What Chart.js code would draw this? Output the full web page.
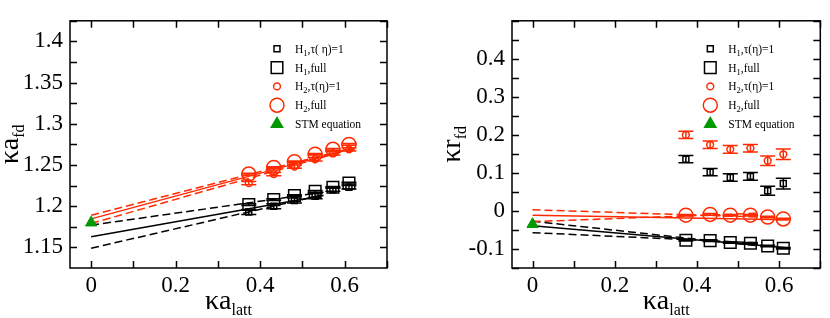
<!DOCTYPE html>
<html>
<head>
<meta charset="utf-8">
<script src="https://cdn.jsdelivr.net/npm/chart.js@4.4.1/dist/chart.umd.min.js"></script>
<style>
body { margin: 0; background: #fff; }
.wrap { display: flex; width: 830px; height: 318px; }
.box { width: 415px; height: 318px; }
</style>
</head>
<body>
<div class="wrap">
  <div class="box"><canvas id="chartA" width="415" height="318"></canvas></div>
  <div class="box"><canvas id="chartR" width="415" height="318"></canvas></div>
</div>
<script>
const RED = "#ff2a00";
const GREEN = "#009a00";
const SERIF = "'Liberation Serif', 'Times New Roman', serif";

// lattice spacings (x) of the six data points
const latt = [0.373, 0.432, 0.481, 0.530, 0.572, 0.610];

// tick labels
const xTicks = [0, 0.2, 0.4, 0.6];
const aTicks = [1.15, 1.2, 1.25, 1.3, 1.35, 1.4];
const rTicks = [-0.1, 0, 0.1, 0.2, 0.3, 0.4];

// left panel: kappa a_fd
const aH1tau = [1.193, 1.200, 1.207, 1.212, 1.220, 1.223];
const aH1tauErr = [0.003, 0.003, 0.003, 0.003, 0.002, 0.002];
const aH1full = [1.202, 1.208, 1.213, 1.218, 1.223, 1.228];
const aH1fullErr = [0.001, 0.001, 0.001, 0.001, 0.001, 0.001];
const aH2tau = [1.228, 1.239, 1.248, 1.257, 1.264, 1.269];
const aH2tauErr = [0.002, 0.002, 0.002, 0.002, 0.002, 0.002];
const aH2full = [1.239, 1.247, 1.254, 1.263, 1.269, 1.275];
const aH2fullErr = [0.001, 0.001, 0.001, 0.001, 0.001, 0.001];
const aSTM = 1.180;

// left panel fits (x = 0 and end of fit)
const aFitX1 = [0, 0.55];
const aFitH1 = [1.163, 1.213];
const aFitH1hi = [1.177, 1.217];
const aFitH1lo = [1.149, 1.214];
const aFitX2 = [0, 0.62];
const aFitH2 = [1.1846, 1.2705];
const aFitH2hi = [1.189, 1.271];
const aFitH2lo = [1.179, 1.270];

// right panel: kappa r_fd
const rH1tau = [0.136, 0.102, 0.088, 0.091, 0.053, 0.072];
const rH1tauErr = [0.0095, 0.0095, 0.01, 0.01, 0.012, 0.014];
const rH1full = [-0.077, -0.078, -0.083, -0.085, -0.092, -0.098];
const rH1fullErr = [0.002, 0.002, 0.002, 0.002, 0.002, 0.002];
const rH2tau = [0.200, 0.174, 0.162, 0.165, 0.132, 0.149];
const rH2tauErr = [0.0095, 0.01, 0.01, 0.01, 0.0125, 0.014];
const rH2full = [-0.011, -0.009, -0.011, -0.011, -0.016, -0.021];
const rH2fullErr = [0.002, 0.002, 0.002, 0.002, 0.002, 0.002];
const rSTM = -0.035;

// right panel fits
const rFitX1 = [0, 0.62];
const rFitH1 = [-0.039, -0.097];
const rFitXd = [0, 0.55];
const rFitH1hi = [-0.027, -0.092];
const rFitH1lo = [-0.057, -0.084];
const rFitH2 = [-0.011, -0.023];
const rFitH2hi = [0.003, -0.016];
const rFitH2lo = [-0.028, -0.006];

// legend texts (the left panel has a space inside the bracket)
const legendA = ["H|1|,τ( η)=1", "H|1|,full", "H|2|,τ(η)=1", "H|2|,full", "STM equation"];
const legendR = ["H|1|,τ(η)=1", "H|1|,full", "H|2|,τ(η)=1", "H|2|,full", "STM equation"];

function pts(xs, ys) {
    return xs.map((x, i) => ({ x: x, y: ys[i] }));
}

function marker(ys, errs, style, radius, color) {
    return {
        data: pts(latt, ys),
        errs: errs,
        showLine: false,
        pointStyle: style,
        pointRadius: radius,
        pointBorderWidth: 1.5,
        borderColor: color,
        pointBorderColor: color,
        backgroundColor: "rgba(0,0,0,0)",
        pointBackgroundColor: "rgba(0,0,0,0)"
    };
}

function stm(y) {
    return {
        data: [{ x: 0, y: y }],
        showLine: false,
        pointStyle: "triangle",
        pointRadius: 6.5,
        pointBorderWidth: 1,
        borderColor: GREEN,
        pointBorderColor: GREEN,
        pointBackgroundColor: GREEN
    };
}

function fit(xs, ys, color, dashed) {
    return {
        data: pts(xs, ys),
        showLine: true,
        pointRadius: 0,
        borderColor: color,
        borderWidth: 1.5,
        borderDash: dashed ? [8, 4] : [],
        fill: false
    };
}

// frame with inward ticks on all four sides
const framePlugin = {
    id: "frame",
    afterDraw(chart, args, opts) {
        const { ctx, chartArea: a, scales } = chart;
        ctx.save();
        ctx.strokeStyle = "#000";
        ctx.lineWidth = 1.5;
        ctx.beginPath();
        const T = 7;
        for (let i = 0; ; i++) {
            const v = opts.xStart + i * opts.xStep;
            if (v > scales.x.max + 1e-9) break;
            const px = Math.round(scales.x.getPixelForValue(v)) + 0.5;
            ctx.moveTo(px, a.bottom); ctx.lineTo(px, a.bottom - T);
            ctx.moveTo(px, a.top); ctx.lineTo(px, a.top + T);
        }
        for (let i = 0; ; i++) {
            const v = opts.yStart + i * opts.yStep;
            if (v > scales.y.max + 1e-9) break;
            const py = Math.round(scales.y.getPixelForValue(v)) + 0.5;
            ctx.moveTo(a.left, py); ctx.lineTo(a.left + T, py);
            ctx.moveTo(a.right, py); ctx.lineTo(a.right - T, py);
        }
        ctx.stroke();
        ctx.strokeRect(a.left, a.top, a.right - a.left, a.bottom - a.top);
        ctx.restore();
    }
};

// vertical error bars with caps
const errorPlugin = {
    id: "errbars",
    afterDatasetsDraw(chart) {
        const { ctx, scales } = chart;
        ctx.save();
        ctx.lineWidth = 1.5;
        chart.data.datasets.forEach(ds => {
            if (!ds.errs) return;
            ctx.strokeStyle = ds.borderColor;
            ctx.beginPath();
            ds.data.forEach((p, j) => {
                const e = ds.errs[j];
                const px = scales.x.getPixelForValue(p.x);
                const y0 = scales.y.getPixelForValue(p.y - e);
                const y1 = scales.y.getPixelForValue(p.y + e);
                ctx.moveTo(px, y0); ctx.lineTo(px, y1);
                ctx.moveTo(px - 7.5, y0); ctx.lineTo(px + 7.5, y0);
                ctx.moveTo(px - 7.5, y1); ctx.lineTo(px + 7.5, y1);
            });
            ctx.stroke();
        });
        ctx.restore();
    }
};

// "H|1|,full" -> [["H",0],["1",1],[",full",0]]  (odd pieces are subscripts)
function split(s) {
    return s.split("|").map((t, i) => [t, i % 2]);
}
function richWidth(ctx, parts, size, subSize) {
    let w = 0;
    parts.forEach(p => {
        ctx.font = (p[1] ? subSize : size) + "px " + SERIF;
        w += ctx.measureText(p[0]).width;
    });
    return w;
}
function drawRich(ctx, parts, x, y, size, subSize, subDrop) {
    parts.forEach(p => {
        ctx.font = (p[1] ? subSize : size) + "px " + SERIF;
        ctx.fillText(p[0], x, p[1] ? y + subDrop : y);
        x += ctx.measureText(p[0]).width;
    });
}

const legendMarks = [
    { style: "rect", r: 4.2, color: "#000", fill: "rgba(0,0,0,0)" },
    { style: "rect", r: 8.2, color: "#000", fill: "rgba(0,0,0,0)" },
    { style: "circle", r: 3.4, color: RED, fill: "rgba(0,0,0,0)" },
    { style: "circle", r: 7, color: RED, fill: "rgba(0,0,0,0)" },
    { style: "triangle", r: 6.5, color: GREEN, fill: GREEN }
];

const labelPlugin = {
    id: "labels",
    afterDraw(chart, args, opts) {
        const { ctx, chartArea: a } = chart;
        ctx.save();
        ctx.fillStyle = "#000";
        ctx.textBaseline = "alphabetic";
        // x title
        const xt = split("κa|latt");
        const xw = richWidth(ctx, xt, 28, 16);
        drawRich(ctx, xt, (a.left + a.right) / 2 - xw / 2, 309, 28, 16, 6);
        // y title (rotated)
        const yt = split(opts.yTitle);
        const yw = richWidth(ctx, yt, 28, 16);
        ctx.save();
        ctx.translate(opts.yTitleX, (a.top + a.bottom) / 2);
        ctx.rotate(-Math.PI / 2);
        drawRich(ctx, yt, -yw / 2, 0, 28, 16, 6);
        ctx.restore();
        // legend
        opts.legend.forEach((txt, i) => {
            const m = legendMarks[i];
            const y = a.top + 28 + 18.8 * i;
            ctx.fillStyle = m.fill;
            ctx.strokeStyle = m.color;
            ctx.lineWidth = 1.5;
            Chart.helpers.drawPoint(ctx, { pointStyle: m.style, radius: m.r, borderWidth: 1.5, rotation: 0 }, a.right - 110, y);
            ctx.fillStyle = "#000";
            drawRich(ctx, split(txt), a.right - 92, y + 4, 11.5, 8.5, 3);
        });
        ctx.restore();
    }
};

const tickFont = { family: SERIF, size: 23 };

function scales(yMin, yMax, yTicks, yWidth) {
    return {
        x: {
            type: "linear", min: -0.05, max: 0.7,
            afterBuildTicks: s => { s.ticks = xTicks.map(v => ({ value: v })); },
            afterFit: s => { s.height = 50; },
            grid: { display: false, drawTicks: false },
            border: { display: false },
            ticks: { padding: 4, font: tickFont, color: "#000", autoSkip: false, maxRotation: 0, callback: v => String(v) }
        },
        y: {
            type: "linear", min: yMin, max: yMax,
            afterBuildTicks: s => { s.ticks = yTicks.map(v => ({ value: v })); },
            afterFit: s => { s.width = yWidth; },
            grid: { display: false, drawTicks: false },
            border: { display: false },
            ticks: { padding: 7, font: tickFont, color: "#000", autoSkip: false, callback: v => String(v) }
        }
    };
}

const configA = {
    type: "scatter",
    data: {
        datasets: [
            stm(aSTM),
            marker(aH2full, aH2fullErr, "circle", 7, RED),
            marker(aH2tau, aH2tauErr, "circle", 3.4, RED),
            marker(aH1full, aH1fullErr, "rect", 8.2, "#000"),
            marker(aH1tau, aH1tauErr, "rect", 4.2, "#000"),
            fit(aFitX2, aFitH2, RED, false),
            fit(aFitX2, aFitH2hi, RED, true),
            fit(aFitX2, aFitH2lo, RED, true),
            fit(aFitX1, aFitH1, "#000", false),
            fit(aFitX1, aFitH1hi, "#000", true),
            fit(aFitX1, aFitH1lo, "#000", true)
        ]
    },
    options: {
        responsive: false,
        animation: false,
        events: [],
        layout: { padding: { top: 1, right: 28, left: 0, bottom: 0 } },
        scales: scales(1.125, 1.425, aTicks, 70),
        plugins: {
            legend: { display: false },
            tooltip: { enabled: false },
            frame: { xStart: 0, xStep: 0.1, yStart: 1.15, yStep: 0.025 },
            labels: { yTitle: "κa|fd", yTitleX: 18, legend: legendA }
        }
    },
    plugins: [framePlugin, errorPlugin, labelPlugin]
};

const configR = {
    type: "scatter",
    data: {
        datasets: [
            stm(rSTM),
            marker(rH2full, rH2fullErr, "circle", 7, RED),
            marker(rH2tau, rH2tauErr, "circle", 3.4, RED),
            marker(rH1full, rH1fullErr, "rect", 8.2, "#000"),
            marker(rH1tau, rH1tauErr, "rect", 4.2, "#000"),
            fit(rFitX1, rFitH2, RED, false),
            fit(rFitXd, rFitH2hi, RED, true),
            fit(rFitXd, rFitH2lo, RED, true),
            fit(rFitX1, rFitH1, "#000", false),
            fit(rFitXd, rFitH1hi, "#000", true),
            fit(rFitXd, rFitH1lo, "#000", true)
        ]
    },
    options: {
        responsive: false,
        animation: false,
        events: [],
        layout: { padding: { top: 1, right: 1, left: 0, bottom: 0 } },
        scales: scales(-0.15, 0.5, rTicks, 97),
        plugins: {
            legend: { display: false },
            tooltip: { enabled: false },
            frame: { xStart: 0, xStep: 0.1, yStart: -0.15, yStep: 0.05 },
            labels: { yTitle: "κr|fd", yTitleX: 45, legend: legendR }
        }
    },
    plugins: [framePlugin, errorPlugin, labelPlugin]
};

new Chart(document.getElementById("chartA"), configA);
new Chart(document.getElementById("chartR"), configR);
</script>
</body>
</html>
